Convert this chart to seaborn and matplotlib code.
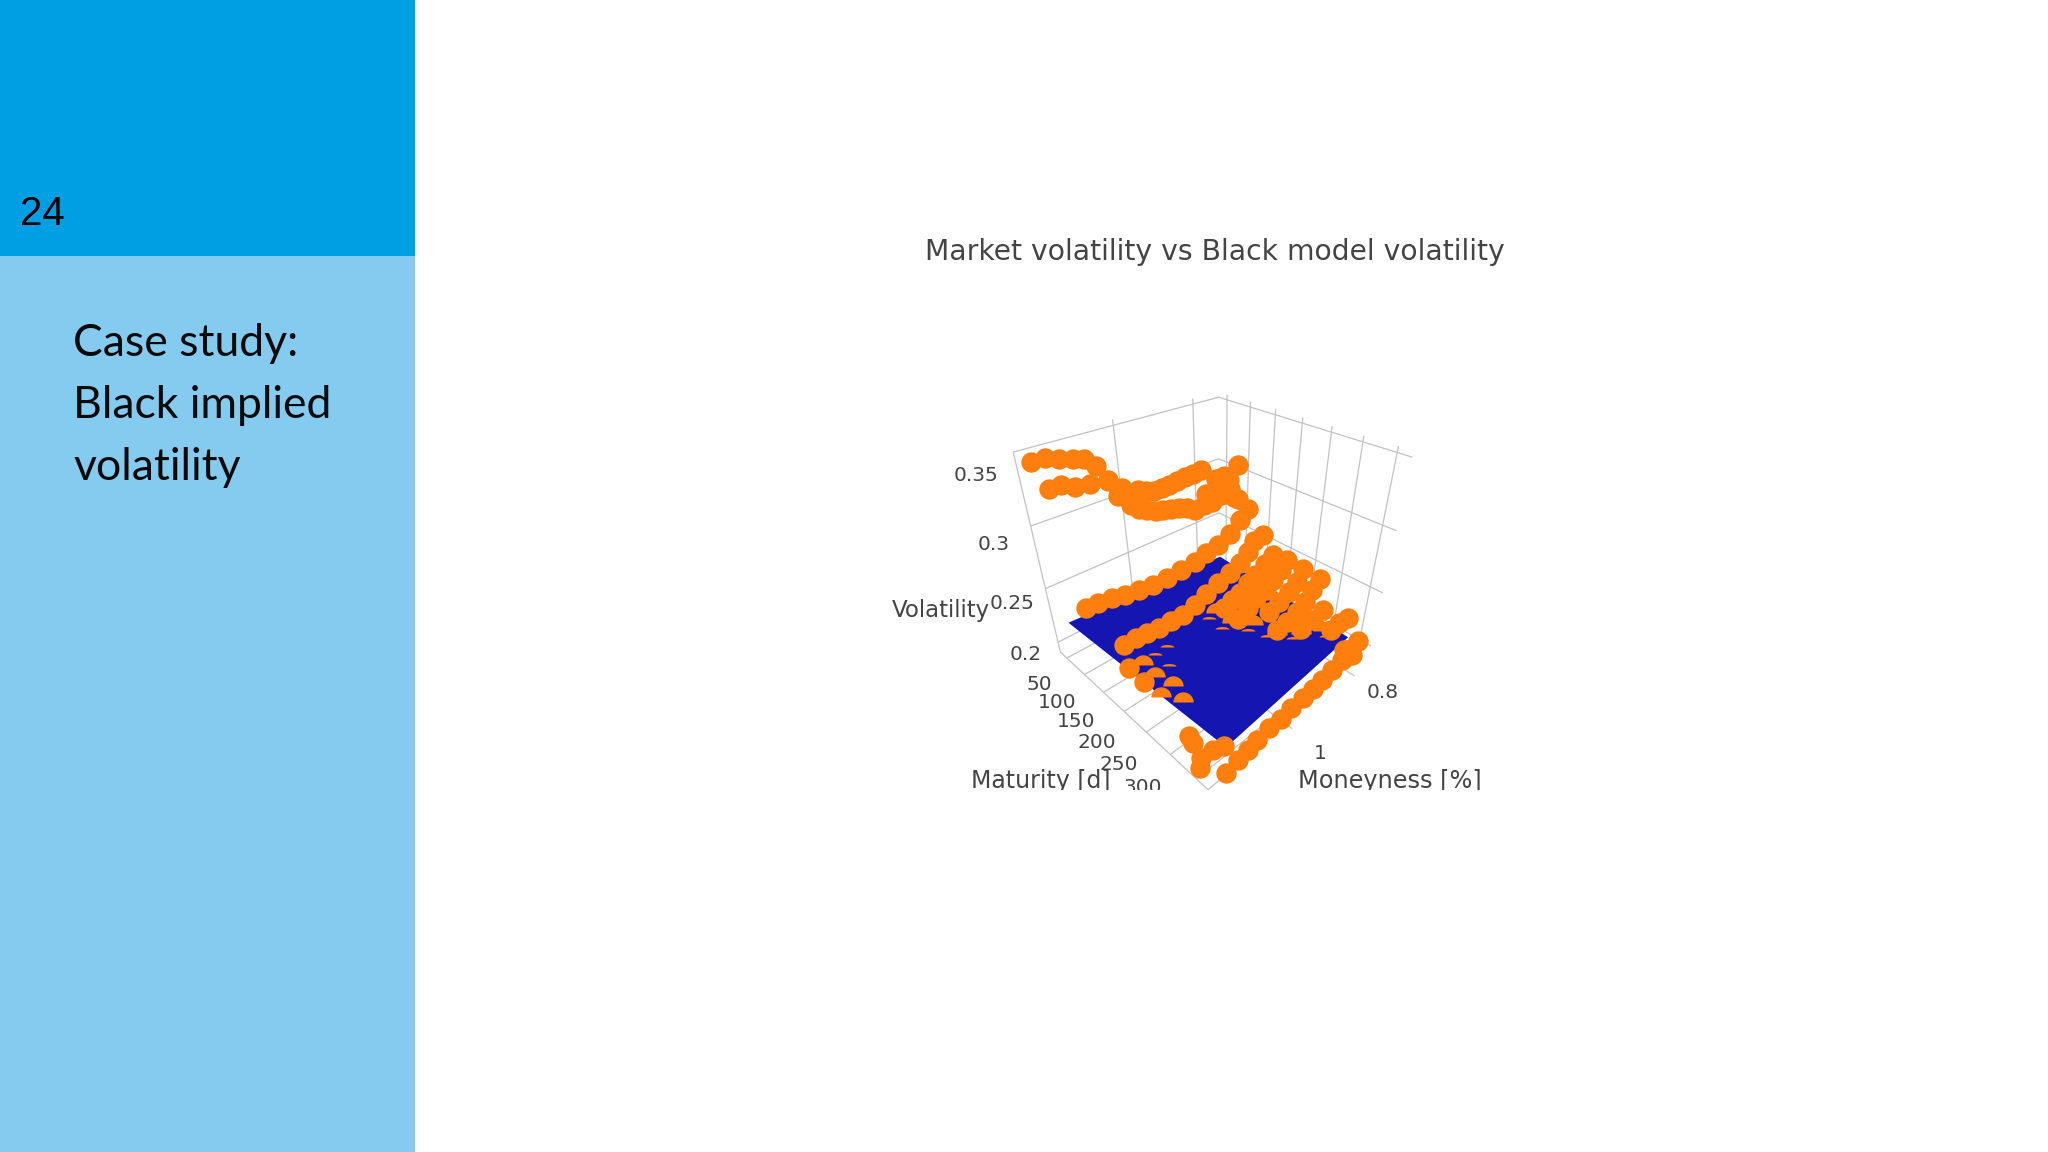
import numpy as np
import pandas as pd
import matplotlib
matplotlib.use("Agg")
import matplotlib.pyplot as plt
import matplotlib.path as mpath
from matplotlib.patches import Rectangle
import seaborn as sn

# market volatility, one block per maturity [d]
MONEYNESS_A = [1.228,1.200,1.173,1.144,1.119,1.095,1.072,1.053,1.020,0.978,0.933,0.885,0.834,0.773,0.709,0.678]
VOL_A = [0.342,0.342,0.339,0.336,0.334,0.327,0.314,0.300,0.289,0.280,0.275,0.271,0.264,0.264,0.270,0.257]
MONEYNESS_A2 = [1.000,0.955,0.910,0.860,0.800,0.740]
VOL_A2 = [0.284,0.277,0.273,0.268,0.264,0.267]
MONEYNESS_B = [1.212,1.186,1.158,1.123,1.081,1.050,1.011,0.968,0.923,0.875,0.825]
VOL_B = [0.324,0.324,0.320,0.318,0.316,0.308,0.302,0.297,0.297,0.299,0.300]
MONEYNESS_B2 = [0.990,0.945,0.900,0.850]
VOL_B2 = [0.299,0.297,0.298,0.299]
MONEYNESS_C = [0.766,0.738,0.689]
VOL_C = [0.285,0.285,0.291]
MONEYNESS_C2 = [0.800,0.760,0.720,0.700,0.720]
VOL_C2 = [0.275,0.285,0.270,0.262,0.280]
MONEYNESS_D = [1.193,1.162,1.126,1.089,1.049,1.008,0.965,0.920,0.873,0.832,0.789,0.746,0.709,0.679]
VOL_D = [0.230,0.229,0.228,0.224,0.223,0.221,0.221,0.222,0.224,0.227,0.229,0.235,0.244,0.251]
MONEYNESS_E = [1.158,1.125,1.092,1.058,1.021,0.984,0.945,0.905,0.864,0.822,0.787,0.758,0.737,0.700]
VOL_E = [0.203,0.204,0.202,0.201,0.201,0.201,0.204,0.209,0.213,0.217,0.222,0.229,0.237,0.238]
MONEYNESS_F = [0.904,0.877,0.849,0.822,0.794,0.758,0.729]
VOL_F = [0.205,0.209,0.211,0.217,0.221,0.226,0.231]
MONEYNESS_G = [0.903,0.869,0.842,0.807,0.780,0.752,0.731]
VOL_G = [0.203,0.208,0.213,0.216,0.221,0.227,0.234]
MONEYNESS_H = [0.843,0.809,0.773,0.745,0.726]
VOL_H = [0.208,0.212,0.216,0.222,0.231]
MONEYNESS_I = [0.877,0.842,0.808,0.780,0.754,0.727]
VOL_I = [0.207,0.208,0.212,0.217,0.224,0.231]
MONEYNESS_J = [0.862,0.819,0.784]
VOL_J = [0.216,0.216,0.220]
MONEYNESS_K = [0.814,0.785,0.745]
VOL_K = [0.215,0.216,0.214]
MONEYNESS_L = [1.187,1.155,1.127,1.099,1.064,1.028,0.997,0.959,0.926,0.892,0.858,0.822,0.782]
VOL_L = [0.176,0.180,0.182,0.184,0.186,0.186,0.189,0.189,0.191,0.192,0.194,0.197,0.193]
MONEYNESS_N = [0.793,0.738]
VOL_N = [0.197,0.196]
MONEYNESS_P = [1.211,1.202,1.150]
VOL_P = [0.197,0.187,0.165]
MONEYNESS_Q = [1.223,1.224,1.162]
VOL_Q = [0.193,0.183,0.186]

full_rows = [
    (34, MONEYNESS_A, VOL_A), (34, MONEYNESS_A2, VOL_A2), (45, MONEYNESS_B, VOL_B), (45, MONEYNESS_B2, VOL_B2),
    (39, MONEYNESS_C, VOL_C), (39, MONEYNESS_C2, VOL_C2),
    (60, MONEYNESS_D, VOL_D), (113, MONEYNESS_E, VOL_E), (155, MONEYNESS_F, VOL_F),
    (187, MONEYNESS_G, VOL_G), (218, MONEYNESS_H, VOL_H), (255, MONEYNESS_I, VOL_I),
    (292, MONEYNESS_J, VOL_J), (324, MONEYNESS_K, VOL_K), (355, MONEYNESS_L, VOL_L),
    (345, MONEYNESS_N, VOL_N), (155, [1.189], [0.201]), (187, [1.188], [0.198]),
    (303, MONEYNESS_P, VOL_P), (334, MONEYNESS_Q, VOL_Q),
]
# points the model surface cuts through: only the cap above it shows
half_rows = [
    (155, [1.155,0.930], [0.196,0.205]), (187, [1.157,0.923], [0.196,0.202]),
    (218, [1.179,1.146,0.898], [0.192,0.195,0.205]), (255, [1.165,0.875], [0.198,0.201]),
    (292, [0.859,0.771], [0.210,0.196]),
]
sliver_rows = [
    (113, [1.039,1.076], [0.177,0.176]), (155, [1.083,0.954], [0.180,0.203]),
    (187, [0.956,0.866], [0.202,0.183]), (255, [0.910,0.811], [0.206,0.184]),
    (292, [0.750,0.639], [0.186,0.158]),
]
# model surface corners
SURF_MATURITY = [39, 345, 345, 39]
SURF_MONEYNESS = [1.226, 1.172, 0.787, 0.752]
SURF_VOL = [0.216, 0.193, 0.209, 0.207]

VOL_TICKS = [0.2, 0.25, 0.3, 0.35]
MATURITY_TICKS = [50, 100, 150, 200, 250, 300, 350]
MONEYNESS_POS = [0.825, 1.04]
MONEYNESS_LABELS = ["0.8", "1"]

M0, M1, T0, T1, V0, V1 = 0.745, 1.255, 31, 371, 0.19, 0.35

# camera of the 3d view, fitted on the corners of the box (in the axes units)
lo = np.array([M0, T0, V0])
hi = np.array([M1, T1, V1])
cantos = [(M0,T0,V0,915,630),(M1,T0,V0,510,880),(M0,T1,V0,1295,880),(M1,T1,V0,875,1290),
          (M0,T0,V1,900,110),(M1,T0,V1,397,270),(M0,T1,V1,1410,300)]
A = []
for m, t, v, x, y in cantos:
    h = np.r_[(np.array([m,t,v])-lo)/(hi-lo), 1]
    A.append(np.r_[h, np.zeros(4), -x*h])
    A.append(np.r_[np.zeros(4), h, -y*h])
P = np.linalg.svd(np.array(A))[2][-1].reshape(3,4)

def proj(m, t, v):
    q = np.c_[(np.c_[m,t,v]-lo)/(hi-lo), np.ones(len(np.atleast_1d(m)))]
    s = q @ P.T
    return s[:,0]/s[:,2], s[:,1]/s[:,2]

def tabela(rows):
    partes = []
    for t, ms, vs in rows:
        x, y = proj(np.array(ms), np.full(len(ms), t), np.array(vs))
        partes.append(pd.DataFrame({"x": x, "y": y}))
    return pd.concat(partes)

sn.set_theme(style="white")
plt.rcParams['font.family'] = ['DejaVu Sans']

fig = plt.figure(figsize=(20.48, 11.52), dpi=100, facecolor="white")

# side panel
fig.add_artist(Rectangle((0, 0), 415/2048, 1, transform=fig.transFigure, color="#84CBEF", lw=0))
fig.add_artist(Rectangle((0, 1-256/1152), 415/2048, 256/1152, transform=fig.transFigure, color="#009FE3", lw=0))
fig.text(20/2048, 1-214/1152, "24", fontsize=29, family="Liberation Sans", color="black", va="center")
for texto, yy in zip(["Case study:", "Black implied", "volatility"], [344, 405, 467]):
    fig.text(73/2048, 1-yy/1152, texto, fontsize=32, family="Lato", color="#0a0a0a", va="center")
fig.text(1215/2048, 1-252/1152, "Market volatility vs Black model volatility", fontsize=20.3,
         color="#444444", ha="center", va="center")

ax = fig.add_axes([860/2048, 1-790/1152, 620/2048, 430/1152])

def linha(m, t, v):
    x, y = proj(np.array(m, float), np.array(t, float), np.array(v, float))
    ax.plot(x, y, color="#c2c2c2", lw=0.9, zorder=1, solid_capstyle="butt")

# back walls and floor
for v in VOL_TICKS:
    linha([M1, M0, M0], [T0, T0, T1], [v, v, v])
for m in MONEYNESS_POS:
    linha([m, m, m], [T1+10, T0, T0], [V0, V0, V1+0.004])
for t in MATURITY_TICKS:
    linha([M1, M0, M0], [t, t, t], [V0, V0, V1+0.004])
linha([M1, M1, M0+0.34], [T0, T1, T1], [V0, V0, V0])
linha([M1, M1], [T0, T0], [V0, V1])

sx, sy = proj(np.array(SURF_MONEYNESS), np.array(SURF_MATURITY), np.array(SURF_VOL))
ax.fill(sx, sy, color="#1515B2", lw=0, zorder=2)

LARANJA = "#FF7F0E"
disco = mpath.Path.wedge(0, 180)
fatia = mpath.Path(disco.vertices*np.array([1, 0.35]), disco.codes)

sn.scatterplot(data=tabela(full_rows), x="x", y="y", s=215, color=LARANJA, linewidth=0, ax=ax, zorder=3, legend=False)
sn.scatterplot(data=tabela(half_rows), x="x", y="y", s=215, marker=disco, color=LARANJA, linewidth=0, ax=ax, zorder=3, legend=False)
sn.scatterplot(data=tabela(sliver_rows), x="x", y="y", s=100, marker=fatia, color=LARANJA, linewidth=0, ax=ax, zorder=3, legend=False)
ax.set_xlim(0, 1575)
ax.set_ylim(1290, 0)
ax.axis("off")

# tick labels sit away from the box edge, as in the 3d scene
cor = "#444444"
for v, dx, dy in zip(VOL_TICKS, [-82, -85, -95, -95], [38, 46, 54, 70]):
    x, y = proj(np.array([M1]), np.array([T0]), np.array([v]))
    ax.text(x[0]+dx, y[0]+dy, f"{v:g}", color=cor, fontsize=14.5, ha="center", va="center", clip_on=True)
for t in MATURITY_TICKS:
    x, y = proj(np.array([M1]), np.array([t]), np.array([V0]))
    ax.text(x[0]-69, y[0]+81+(t-50)*0.076, f"{t}", color=cor, fontsize=14.5, ha="center", va="center", clip_on=True)
for m, rot, dy in zip(MONEYNESS_POS, MONEYNESS_LABELS, [60, 88]):
    x, y = proj(np.array([m]), np.array([T1]), np.array([V0]))
    ax.text(x[0]+85, y[0]+dy, rot, color=cor, fontsize=14.5, ha="center", va="center", clip_on=True)
ax.text(205, 752, "Volatility", color=cor, fontsize=16.5, ha="center", va="center", clip_on=True)
ax.text(460, 1262, "Maturity [d]", color=cor, fontsize=17, ha="center", va="center", clip_on=True)
ax.text(1345, 1262, "Moneyness [%]", color=cor, fontsize=17.3, ha="center", va="center", clip_on=True)

fig.savefig("out.png", dpi=100)
